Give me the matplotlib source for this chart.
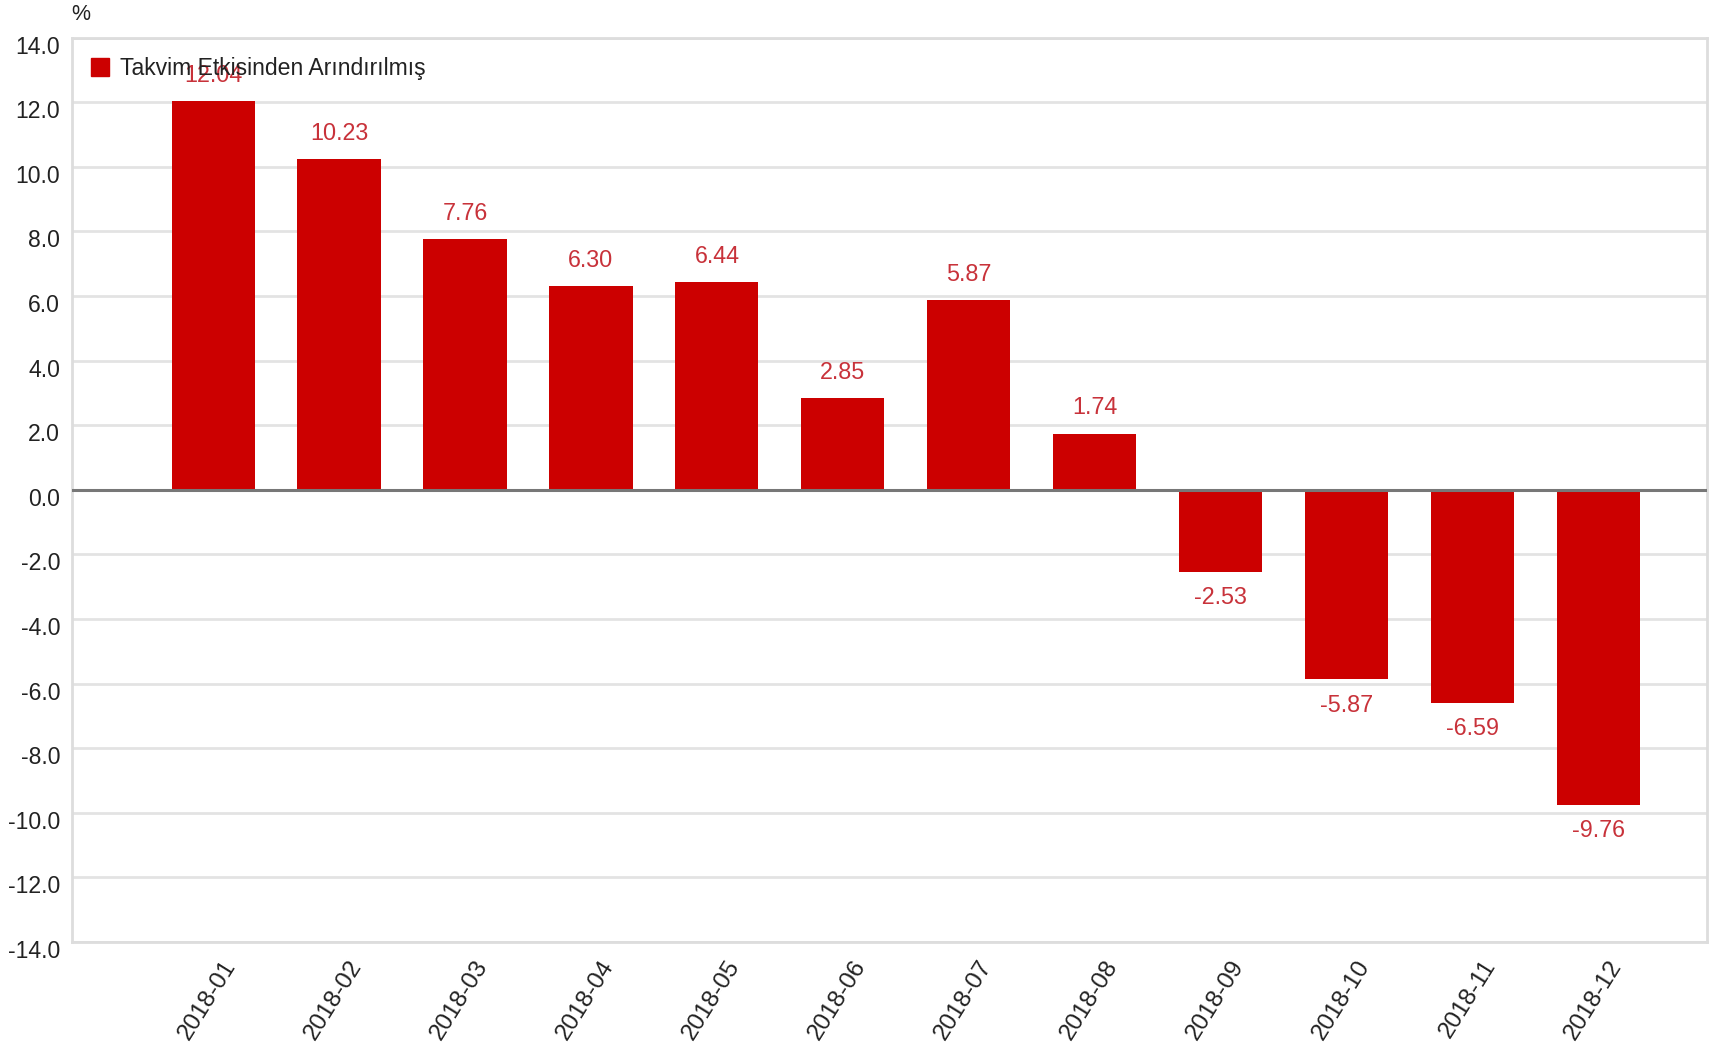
import matplotlib
matplotlib.use("Agg")
import matplotlib.pyplot as plt
import matplotlib.transforms as mtransforms
from matplotlib.patches import Patch

plt.rcParams['font.family'] = ['Liberation Sans', 'DejaVu Sans']

months = ["2018-01", "2018-02", "2018-03", "2018-04", "2018-05", "2018-06",
          "2018-07", "2018-08", "2018-09", "2018-10", "2018-11", "2018-12"]
values = [12.04, 10.23, 7.76, 6.30, 6.44, 2.85, 5.87, 1.74, -2.53, -5.87, -6.59, -9.76]
yticks = [14.0, 12.0, 10.0, 8.0, 6.0, 4.0, 2.0, 0.0, -2.0, -4.0, -6.0, -8.0, -10.0, -12.0, -14.0]
series_name = "Takvim Etkisinden Arındırılmış"

BAR = "#cc0000"
LABEL = "#c8323a"
GRID = "#e3e3e3"
TEXT = "#222222"

fig = plt.figure(figsize=(17.15, 10.48), dpi=100)
ax = fig.add_axes([72 / 1715, 1 - 942 / 1048, (1707 - 72) / 1715, (942 - 37.7) / 1048])

x = list(range(len(months)))
ax.bar(x, values, width=0.66, color=BAR, zorder=3)

ax.set_xlim(-1.12, 11.86)
ax.set_ylim(-14, 14)
ax.set_yticks(yticks)
ax.set_yticklabels([f"{v:.1f}" for v in yticks])
ax.set_xticks(x)
ax.set_xticklabels(months, rotation=58, ha="right", va="center", rotation_mode="anchor")

ax.tick_params(axis="both", length=0, colors=TEXT)
ax.tick_params(axis="y", pad=8.5, labelsize=16.6)
ax.tick_params(axis="x", pad=0, labelsize=17.5)

# y labels sit slightly below their gridlines
yoff = mtransforms.ScaledTranslation(0, -7 / 100, fig.dpi_scale_trans)
for lab in ax.get_yticklabels():
    lab.set_transform(lab.get_transform() + yoff)

# x labels end just right of and below each category centre
xoff = mtransforms.ScaledTranslation(18 / 100, -20 / 100, fig.dpi_scale_trans)
for lab in ax.get_xticklabels():
    lab.set_transform(lab.get_transform() + xoff)

ax.grid(axis="y", color=GRID, linewidth=2.0, zorder=0)
ax.set_axisbelow(True)
for side in ["left", "right", "top", "bottom"]:
    ax.spines[side].set_color("#dddddd")
    ax.spines[side].set_linewidth(2.0)

ax.axhline(0, color="#777777", linewidth=2.2, zorder=4)

for xi, v in zip(x, values):
    off = 18.5 if v >= 0 else -18.5
    ax.annotate(f"{v:.2f}", xy=(xi, v), xytext=(0, off), textcoords="offset points",
                ha="center", va="center", fontsize=16.8, color=LABEL, zorder=5)

fig.text(81 / 1715, 1 - 15 / 1048, "%", ha="center", va="center", fontsize=15.5, color=TEXT)

handle = Patch(facecolor=BAR, edgecolor=BAR)
leg = fig.legend([handle], [series_name], loc="upper left",
                 bbox_to_anchor=(91 / 1715, 1 - 57 / 1048),
                 frameon=False, fontsize=16.6, handlelength=0.8, handleheight=0.85,
                 handletextpad=0.45, borderpad=0, borderaxespad=0)
for t in leg.get_texts():
    t.set_color(TEXT)

fig.savefig("out.png", dpi=100, facecolor="white")
